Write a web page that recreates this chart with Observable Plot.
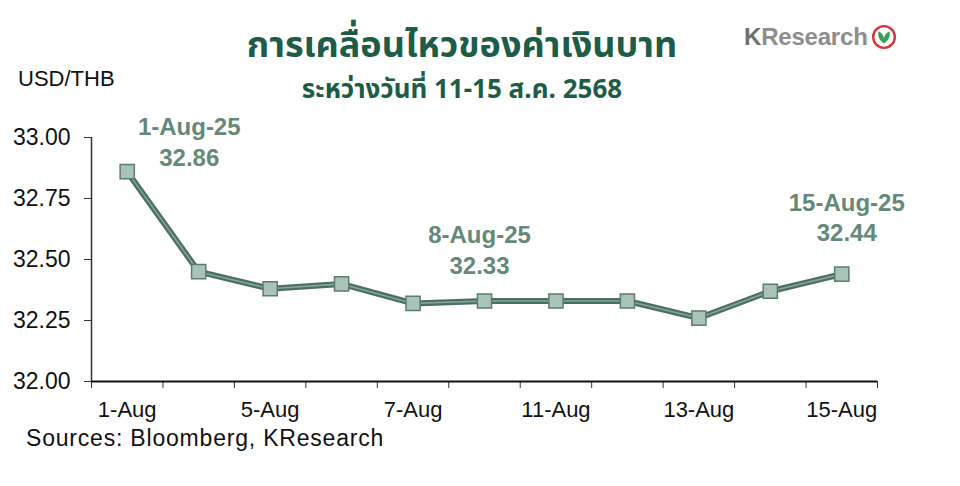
<!DOCTYPE html>
<html>
<head>
<meta charset="utf-8">
<script src="https://cdn.jsdelivr.net/npm/d3@7"></script>
<script src="https://cdn.jsdelivr.net/npm/@observablehq/plot@0.6"></script>
<style>
  html, body { margin: 0; padding: 0; background: #fff; }
  #wrap { position: relative; width: 960px; height: 486px; overflow: hidden; font-family: "Liberation Sans", Arial, sans-serif; }
  .abs { position: absolute; white-space: nowrap; }
  #title { left: 0; width: 924px; text-align: center; top: 26px; height: 40px; line-height: 40px; font-size: 36px; font-weight: bold; color: #1d5c47; font-family: "Noto Sans Thai", "Noto Sans", "Liberation Sans", sans-serif; }
  #subtitle { left: 0; width: 924px; text-align: center; top: 75px; height: 30px; line-height: 30px; font-size: 26px; font-weight: bold; color: #1d5c47; font-family: "Noto Sans Thai", "Noto Sans", "Liberation Sans", sans-serif; }
  #unit { left: 18px; top: 66px; font-size: 22px; color: #111; }
  #source { left: 26px; top: 425px; font-size: 23px; color: #111; letter-spacing: 0.8px; }
  #logo { left: 744px; top: 23px; font-size: 24px; font-weight: bold; color: #8d8d8d; display: flex; align-items: center; gap: 3px; letter-spacing: -0.2px; }
  #logo b { color: #707070; }
  #chart { position: absolute; left: 0; top: 0; }
</style>
</head>
<body>
<div id="wrap">
  <div id="chart"></div>
  <div id="title" class="abs">การเคลื่อนไหวของค่าเงินบาท</div>
  <div id="subtitle" class="abs">ระหว่างวันที่ 11-15 ส.ค. 2568</div>
  <div id="unit" class="abs">USD/THB</div>
  <div id="source" class="abs">Sources: Bloomberg, KResearch</div>
  <div id="logo" class="abs"><span><b>K</b>Research</span>
    <svg width="26" height="26" viewBox="0 0 24 24"><circle cx="12" cy="12" r="10" fill="#fff" stroke="#d8343e" stroke-width="2.2"/><path d="M12 18 C7 15 6 10 7 7 C10 8 12 11 12 14 C12 11 14 8 17 7 C18 10 17 15 12 18 Z" fill="#3f9e55"/></svg>
  </div>
</div>
<script>
// Data
const dates = ["1-Aug", "4-Aug", "5-Aug", "6-Aug", "7-Aug", "8-Aug", "11-Aug", "12-Aug", "13-Aug", "14-Aug", "15-Aug"];
const values = [32.86, 32.45, 32.38, 32.40, 32.32, 32.33, 32.33, 32.33, 32.26, 32.37, 32.44];
const xTickLabels = ["1-Aug", "5-Aug", "7-Aug", "11-Aug", "13-Aug", "15-Aug"];
const yTicks = [32.00, 32.25, 32.50, 32.75, 33.00];
const annotations = [
  {date: "1-Aug", label: "1-Aug-25", value: 32.86},
  {date: "8-Aug", label: "8-Aug-25", value: 32.33},
  {date: "15-Aug", label: "15-Aug-25", value: 32.44}
];

const data = dates.map((d, i) => ({i, date: d, value: values[i]}));
const idx = d => dates.indexOf(d);
const boundaries = dates.map((d, i) => i - 0.5).concat([dates.length - 0.5]);
const labelTicks = xTickLabels.map(idx);
const ann = annotations.map(a => ({i: idx(a.date), value: a.value, text: a.label + "\n" + a.value.toFixed(2)}));

const annMark = (k, dx, dy) => Plot.text([ann[k]], {
  x: "i", y: "value", text: "text", dx, dy,
  lineAnchor: "middle", lineHeight: 1.27, fontSize: 24, fontWeight: "bold",
  fill: "#658979", style: "letter-spacing:1.8px"
});

const chart = Plot.plot({
  width: 960,
  height: 486,
  marginLeft: 91,
  marginRight: 83,
  marginTop: 137,
  marginBottom: 105,
  style: {fontFamily: "'Liberation Sans', Arial, sans-serif", color: "#111", background: "transparent"},
  x: {type: "linear", domain: [-0.5, dates.length - 0.5]},
  y: {domain: [32, 33]},
  marks: [
    Plot.axisY({ticks: yTicks, tickFormat: d3.format(".2f"), tickSize: 7, tickPadding: 14, fontSize: 23, label: null, stroke: "#333"}),
    Plot.axisX({ticks: boundaries, tickFormat: () => "", tickSize: 7, label: null, stroke: "#333"}),
    Plot.axisX({ticks: labelTicks, tickFormat: i => dates[i], tickSize: 0, tickPadding: 20, fontSize: 22, label: null}),
    Plot.ruleX([-0.5], {y1: 32, y2: 33, stroke: "#333", strokeWidth: 1.5}),
    Plot.ruleY([32], {stroke: "#111", strokeWidth: 1.8}),
    Plot.line(data, {x: "i", y: "value", stroke: "#4b7062", strokeWidth: 6}),
    Plot.line(data, {x: "i", y: "value", stroke: "#86a497", strokeWidth: 1.6}),
    Plot.dot(data, {x: "i", y: "value", symbol: "square", r: 8, fill: "#a9c3b7", stroke: "#5b7d6f", strokeWidth: 1.5}),
    annMark(0, 62, -31),
    annMark(1, -5, -52),
    annMark(2, 5, -58)
  ]
});
document.getElementById("chart").appendChild(chart);
</script>
</body>
</html>
